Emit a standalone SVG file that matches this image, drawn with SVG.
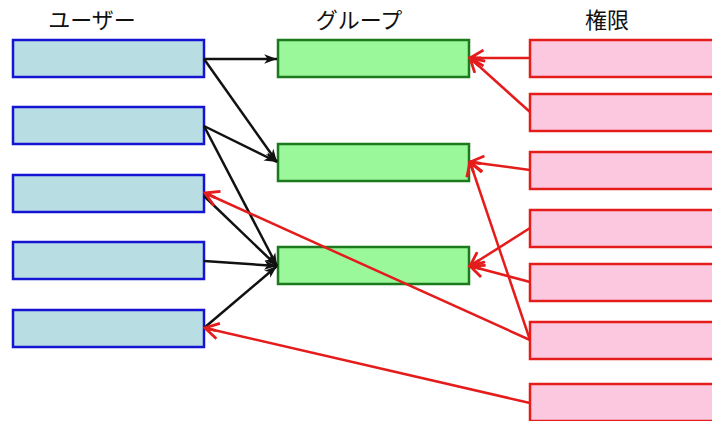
<svg xmlns="http://www.w3.org/2000/svg" width="712" height="421" viewBox="0 0 712 421">
<defs>
<style>
.t{font-family:"Noto Sans CJK JP","Noto Sans",sans-serif;font-size:22px;fill:#111;text-anchor:middle}
.u{fill:#b8dde3;stroke:#1414d2;stroke-width:2.5}
.g{fill:#9af79a;stroke:#1b7a1b;stroke-width:2.5}
.p{fill:#fcc8df;stroke:#e51c1c;stroke-width:2.5}
.k{stroke:#111;stroke-width:2.5;fill:none;marker-end:url(#ak)}
.r{stroke:#e51c1c;stroke-width:2.5;fill:none;marker-end:url(#ar)}
</style>
<marker id="ak" markerUnits="userSpaceOnUse" markerWidth="14" markerHeight="14" refX="11" refY="5" orient="auto" viewBox="0 0 12 10">
<path d="M0,1 L11,5 L0,9 L3,5 Z" fill="#111"/>
</marker>
<marker id="ar" markerUnits="userSpaceOnUse" markerWidth="18" markerHeight="18" refX="14" refY="8" orient="auto" viewBox="0 0 16 16">
<path d="M2,1 L14,8 L2,15 M14,8 L4,8" fill="none" stroke="#e51c1c" stroke-width="2.5"/>
</marker>
</defs>
<text class="t" x="92" y="28">ユーザー</text>
<text class="t" x="359" y="28">グループ</text>
<text class="t" x="607" y="28">権限</text>
<g id="user1"><rect class="u" x="13" y="40" width="191" height="37"/></g>
<g id="user2"><rect class="u" x="13" y="107" width="191" height="37"/></g>
<g id="user3"><rect class="u" x="13" y="175" width="191" height="37"/></g>
<g id="user4"><rect class="u" x="13" y="242" width="191" height="37"/></g>
<g id="user5"><rect class="u" x="13" y="310" width="191" height="37"/></g>
<g id="group1"><rect class="g" x="278" y="40" width="191" height="37"/></g>
<g id="group2"><rect class="g" x="278" y="144" width="191" height="37"/></g>
<g id="group3"><rect class="g" x="278" y="247" width="191" height="37"/></g>
<g id="perm1"><rect class="p" x="530" y="40" width="190" height="37"/></g>
<g id="perm2"><rect class="p" x="530" y="94" width="190" height="37"/></g>
<g id="perm3"><rect class="p" x="530" y="152" width="190" height="37"/></g>
<g id="perm4"><rect class="p" x="530" y="210" width="190" height="37"/></g>
<g id="perm5"><rect class="p" x="530" y="264" width="190" height="37"/></g>
<g id="perm6"><rect class="p" x="530" y="322" width="190" height="37"/></g>
<g id="perm7"><rect class="p" x="530" y="384" width="190" height="37"/></g>
<g id="connectors">
<line class="k" x1="204" y1="59" x2="277" y2="59"/>
<line class="k" x1="204" y1="59" x2="277" y2="162"/>
<line class="k" x1="204" y1="126" x2="277" y2="162"/>
<line class="k" x1="204" y1="126" x2="277" y2="266"/>
<line class="k" x1="204" y1="196" x2="277" y2="266"/>
<line class="k" x1="204" y1="261" x2="277" y2="266"/>
<line class="k" x1="204" y1="328" x2="277" y2="266"/>
<line class="r" x1="530" y1="58" x2="470" y2="58"/>
<line class="r" x1="530" y1="112" x2="470" y2="58"/>
<line class="r" x1="530" y1="170" x2="470" y2="162"/>
<line class="r" x1="530" y1="340" x2="470" y2="162"/>
<line class="r" x1="530" y1="228" x2="470" y2="266"/>
<line class="r" x1="530" y1="282" x2="470" y2="266"/>
<line class="r" x1="530" y1="340" x2="205" y2="193"/>
<line class="r" x1="530" y1="403" x2="205" y2="328"/>
</g>
</svg>
